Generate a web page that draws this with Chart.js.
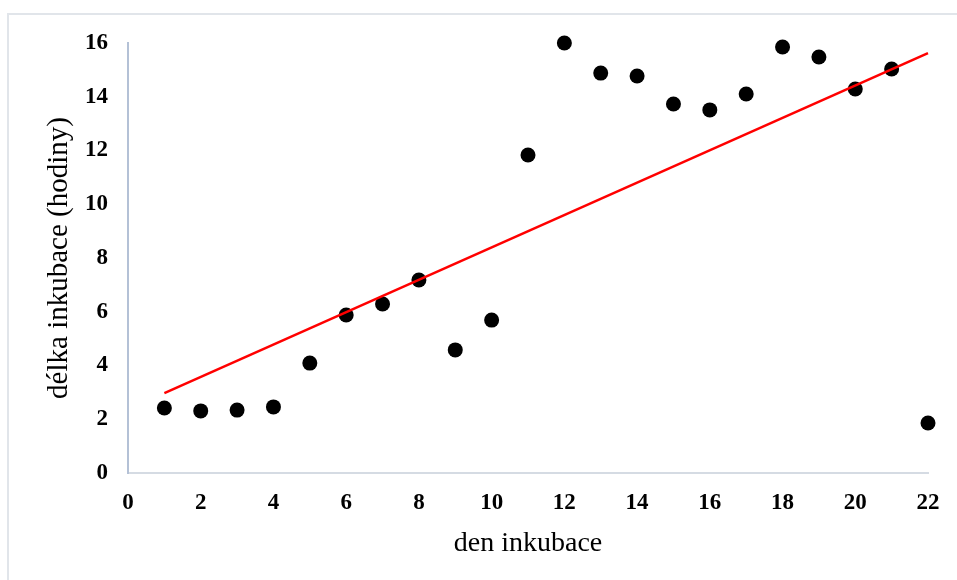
<!DOCTYPE html>
<html>
<head>
<meta charset="utf-8">
<script src="https://cdn.jsdelivr.net/npm/chart.js@4.4.1/dist/chart.umd.min.js"></script>
<style>
  html, body { margin: 0; padding: 0; background: #fff; }
  #wrap { position: relative; width: 957px; height: 580px; overflow: hidden; }
  #frame { position: absolute; left: 7px; top: 13px; width: 980px; height: 600px; border: 2px solid #e1e5ea; box-sizing: border-box; }
  canvas { position: absolute; left: 0; top: 0; }
</style>
</head>
<body>
<div id="wrap">
  <div id="frame"></div>
  <canvas id="c" width="957" height="580"></canvas>
</div>
<script>
// Data
const days  = [1, 2, 3, 4, 5, 6, 7, 8, 9, 10, 11, 12, 13, 14, 15, 16, 17, 18, 19, 20, 21, 22];
const hours = [2.42, 2.31, 2.34, 2.46, 4.09, 5.88, 6.29, 7.18, 4.58, 5.69, 11.83, 16.0,
               14.88, 14.77, 13.73, 13.51, 14.10, 15.85, 15.48, 14.29, 15.03, 1.86];
const trendX = [1, 22];
const trendY = [2.97, 15.62];
const xTitle = 'den inkubace';
const yTitle = 'délka inkubace (hodiny)';

const points = days.map((d, i) => ({ x: d, y: hours[i] }));
const trend = trendX.map((d, i) => ({ x: d, y: trendY[i] }));

const serif = "'Liberation Serif', 'Times New Roman', serif";

new Chart(document.getElementById('c'), {
  type: 'scatter',
  data: {
    datasets: [
      {
        label: 'trend',
        data: trend,
        showLine: true,
        borderColor: '#ff0000',
        borderWidth: 2.5,
        pointRadius: 0,
        fill: false,
        order: 0,
        clip: false
      },
      {
        label: 'délka inkubace',
        data: points,
        backgroundColor: '#000000',
        borderColor: '#000000',
        pointRadius: 7.5,
        pointHoverRadius: 7.5,
        borderWidth: 0,
        order: 1,
        clip: false
      }
    ]
  },
  options: {
    responsive: false,
    animation: false,
    layout: { padding: { top: 43, right: 29, left: 0, bottom: 0 } },
    plugins: { legend: { display: false }, tooltip: { enabled: false } },
    scales: {
      x: {
        type: 'linear',
        min: 0, max: 22,
        afterFit: (s) => { s.height = 107; },
        grid: { display: false, drawTicks: false },
        border: { display: true, color: '#d5dbe3', width: 2 },
        ticks: {
          stepSize: 2,
          padding: 16,
          color: '#000',
          font: { family: serif, size: 23, weight: 'bold' }
        },
        title: {
          display: true,
          text: xTitle,
          color: '#000',
          font: { family: serif, size: 28 },
          padding: { top: 0, bottom: 20 }
        }
      },
      y: {
        type: 'linear',
        min: 0, max: 16,
        afterFit: (s) => { s.width = 128; },
        grid: { display: false, drawTicks: false },
        border: { display: true, color: '#b4c1d6', width: 2 },
        ticks: {
          stepSize: 2,
          padding: 20,
          color: '#000',
          font: { family: serif, size: 23, weight: 'bold' }
        },
        title: {
          display: true,
          text: yTitle,
          color: '#000',
          font: { family: serif, size: 29 },
          padding: { top: 42, bottom: 0 }
        }
      }
    }
  }
});
</script>
</body>
</html>
